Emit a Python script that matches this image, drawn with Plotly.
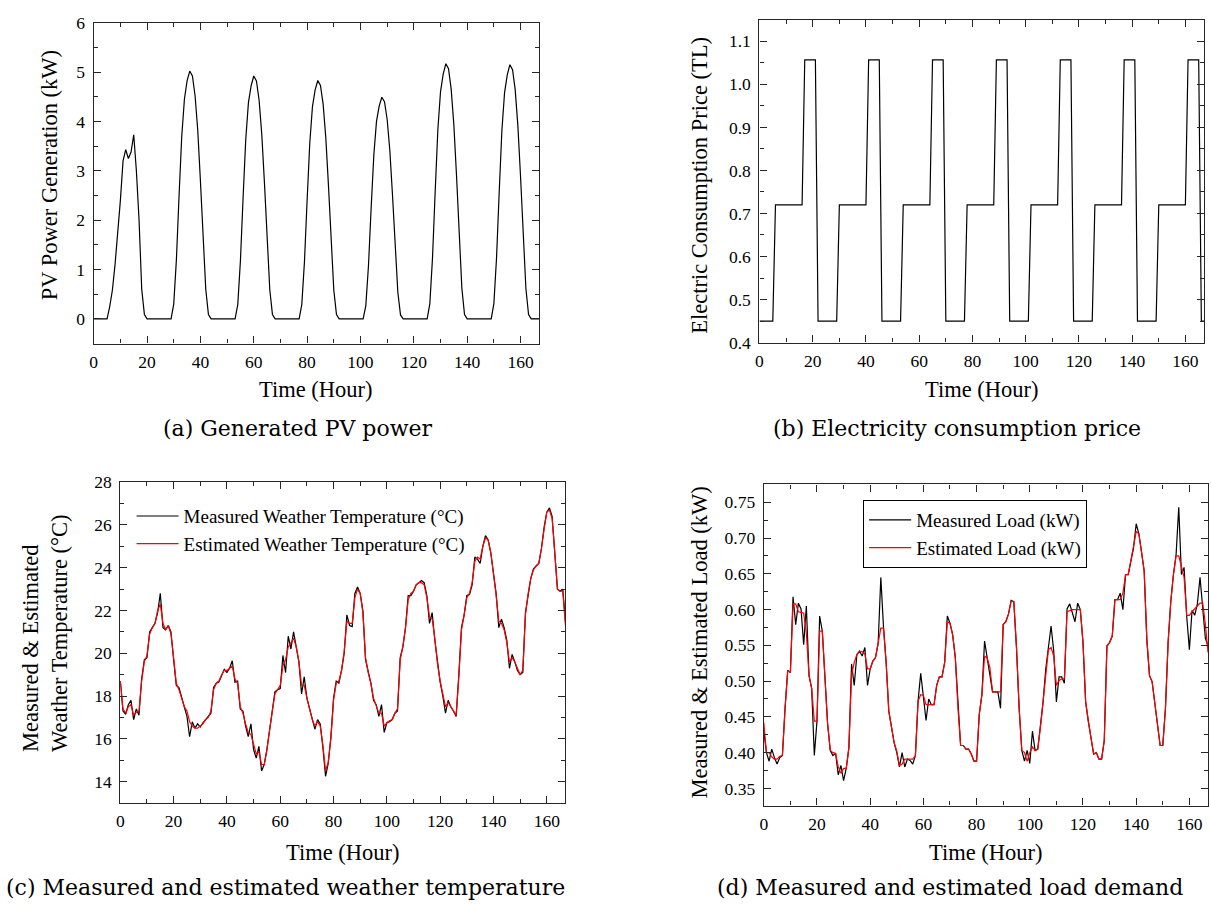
import plotly.graph_objects as go

W, H = 1211, 917

hours = list(range(168))

pv_power = [
    0, 0, 0, 0, 0, 0, 0.25, 0.58, 1.10, 1.70, 2.40, 3.20, 3.43, 3.25, 3.38, 3.73, 3.00, 2.00, 0.60, 0.09, 0, 0, 0, 0,
    0, 0, 0, 0, 0, 0, 0.30, 1.20, 2.50, 3.70, 4.45, 4.82, 5.02, 4.92, 4.52, 3.82, 2.80, 1.60, 0.60, 0.09, 0, 0, 0, 0,
    0, 0, 0, 0, 0, 0, 0.29, 1.18, 2.46, 3.64, 4.38, 4.72, 4.92, 4.82, 4.43, 3.74, 2.76, 1.57, 0.59, 0.09, 0, 0, 0, 0,
    0, 0, 0, 0, 0, 0, 0.29, 1.16, 2.41, 3.57, 4.30, 4.64, 4.83, 4.73, 4.35, 3.67, 2.70, 1.55, 0.58, 0.09, 0, 0, 0, 0,
    0, 0, 0, 0, 0, 0, 0.27, 1.08, 2.25, 3.32, 4.00, 4.31, 4.49, 4.40, 4.04, 3.41, 2.51, 1.44, 0.54, 0.08, 0, 0, 0, 0,
    0, 0, 0, 0, 0, 0, 0.31, 1.24, 2.58, 3.83, 4.60, 4.96, 5.17, 5.07, 4.65, 3.93, 2.90, 1.65, 0.62, 0.09, 0, 0, 0, 0,
    0, 0, 0, 0, 0, 0, 0.31, 1.24, 2.57, 3.81, 4.58, 4.94, 5.15, 5.05, 4.64, 3.91, 2.88, 1.65, 0.62, 0.09, 0, 0, 0, 0,
]

price = [
    0.45, 0.45, 0.45, 0.45, 0.45, 0.45, 0.72, 0.72, 0.72, 0.72, 0.72, 0.72, 0.72, 0.72, 0.72, 0.72, 0.72, 1.057, 1.057, 1.057, 1.057, 1.057, 0.45, 0.45,
    0.45, 0.45, 0.45, 0.45, 0.45, 0.45, 0.72, 0.72, 0.72, 0.72, 0.72, 0.72, 0.72, 0.72, 0.72, 0.72, 0.72, 1.057, 1.057, 1.057, 1.057, 1.057, 0.45, 0.45,
    0.45, 0.45, 0.45, 0.45, 0.45, 0.45, 0.72, 0.72, 0.72, 0.72, 0.72, 0.72, 0.72, 0.72, 0.72, 0.72, 0.72, 1.057, 1.057, 1.057, 1.057, 1.057, 0.45, 0.45,
    0.45, 0.45, 0.45, 0.45, 0.45, 0.45, 0.72, 0.72, 0.72, 0.72, 0.72, 0.72, 0.72, 0.72, 0.72, 0.72, 0.72, 1.057, 1.057, 1.057, 1.057, 1.057, 0.45, 0.45,
    0.45, 0.45, 0.45, 0.45, 0.45, 0.45, 0.72, 0.72, 0.72, 0.72, 0.72, 0.72, 0.72, 0.72, 0.72, 0.72, 0.72, 1.057, 1.057, 1.057, 1.057, 1.057, 0.45, 0.45,
    0.45, 0.45, 0.45, 0.45, 0.45, 0.45, 0.72, 0.72, 0.72, 0.72, 0.72, 0.72, 0.72, 0.72, 0.72, 0.72, 0.72, 1.057, 1.057, 1.057, 1.057, 1.057, 0.45, 0.45,
    0.45, 0.45, 0.45, 0.45, 0.45, 0.45, 0.72, 0.72, 0.72, 0.72, 0.72, 0.72, 0.72, 0.72, 0.72, 0.72, 0.72, 1.057, 1.057, 1.057, 1.057, 1.057, 0.45, 0.45,
]

temp_measured = [
    18.7, 17.3, 17.15, 17.6, 17.8, 16.9, 17.4, 17.1, 18.8, 19.7, 19.8, 21.0,
    21.2, 21.4, 21.9, 22.8, 21.2, 21.1, 21.3, 21.0, 19.7, 18.5, 18.4, 17.9,
    17.5, 17.05, 16.1, 16.8, 16.5, 16.7, 16.55, 16.75, 16.9, 17.1, 17.2, 18.4,
    18.6, 18.65, 19.0, 19.25, 19.1, 19.3, 19.65, 18.65, 18.7, 17.4, 17.3, 16.6,
    16.1, 16.7, 15.5, 15.1, 15.65, 14.5, 14.8, 15.5, 16.4, 17.3, 18.2, 18.3,
    18.35, 19.9, 19.1, 20.8, 20.2, 21.0, 20.3, 19.6, 18.1, 18.9, 17.9, 17.4,
    16.9, 16.45, 16.9, 16.7, 15.6, 14.25, 14.85, 16.1, 17.9, 18.7, 18.6, 19.2,
    20.0, 21.8, 21.3, 21.25, 22.8, 23.1, 22.8, 22.0, 19.7, 19.1, 18.6, 17.8,
    17.6, 17.05, 17.6, 16.3, 16.75, 16.8, 16.9, 17.2, 17.3, 19.8, 20.3, 21.2,
    22.7, 22.7, 22.9, 23.2, 23.3, 23.4, 23.3, 22.7, 21.4, 21.9, 20.6, 19.5,
    18.65, 18.0, 17.2, 17.8, 17.5, 17.3, 17.05, 19.0, 21.2, 21.8, 22.7, 22.75,
    23.2, 24.5, 24.4, 24.2, 25.0, 25.5, 25.3, 24.7, 23.8, 22.8, 21.2, 21.6,
    21.2, 20.6, 19.3, 19.95, 19.6, 19.2, 19.0, 19.1, 21.9, 22.8, 23.5, 23.95,
    24.1, 24.2, 24.9, 25.9, 26.6, 26.8, 26.4, 24.7, 23.0, 22.9, 23.0, 21.5,
]

temp_estimated = [
    18.7, 17.4, 17.2, 17.5, 17.6, 17.1, 17.25, 17.3, 18.7, 19.6, 19.9, 20.9,
    21.2, 21.4, 22.0, 22.3, 21.4, 21.1, 21.3, 20.9, 19.8, 18.6, 18.3, 17.9,
    17.5, 17.3, 16.8, 16.6, 16.5, 16.5, 16.6, 16.7, 16.9, 17.0, 17.3, 18.3,
    18.6, 18.7, 19.0, 19.2, 19.2, 19.3, 19.4, 18.8, 18.6, 17.5, 17.2, 16.7,
    16.3, 16.2, 15.7, 15.3, 15.4, 14.8, 14.8, 15.5, 16.4, 17.3, 18.1, 18.3,
    18.5, 19.4, 19.7, 20.3, 20.5, 20.7, 20.3, 19.6, 18.5, 18.5, 17.9, 17.4,
    16.9, 16.6, 16.8, 16.6, 15.7, 14.5, 14.9, 16.0, 17.8, 18.6, 18.7, 19.2,
    20.1, 21.5, 21.4, 21.4, 22.6, 23.0, 22.8, 21.9, 19.8, 19.1, 18.6, 17.9,
    17.5, 17.2, 17.2, 16.6, 16.75, 16.85, 16.9, 17.2, 17.4, 19.7, 20.3, 21.2,
    22.5, 22.8, 22.9, 23.2, 23.3, 23.3, 23.2, 22.6, 21.7, 21.6, 20.7, 19.5,
    18.7, 18.0, 17.5, 17.7, 17.5, 17.3, 17.1, 18.9, 21.1, 21.8, 22.6, 22.8,
    23.3, 24.3, 24.5, 24.4, 25.0, 25.4, 25.3, 24.7, 23.8, 22.7, 21.5, 21.4,
    21.1, 20.5, 19.6, 19.8, 19.6, 19.3, 19.0, 19.2, 21.8, 22.8, 23.5, 23.9,
    24.1, 24.2, 24.9, 25.8, 26.6, 26.7, 26.3, 24.7, 23.0, 22.9, 22.9, 21.3,
]

load_measured = [
    0.430, 0.400, 0.388, 0.405, 0.393, 0.384, 0.393, 0.396, 0.462, 0.515, 0.512, 0.618,
    0.579, 0.609, 0.601, 0.551, 0.605, 0.508, 0.490, 0.396, 0.444, 0.591, 0.570, 0.499,
    0.440, 0.403, 0.396, 0.399, 0.369, 0.382, 0.361, 0.378, 0.407, 0.524, 0.494, 0.537,
    0.542, 0.535, 0.547, 0.494, 0.517, 0.528, 0.533, 0.553, 0.645, 0.576, 0.526, 0.458,
    0.435, 0.414, 0.400, 0.380, 0.400, 0.380, 0.391, 0.389, 0.384, 0.396, 0.472, 0.511,
    0.478, 0.445, 0.475, 0.467, 0.467, 0.494, 0.506, 0.506, 0.526, 0.591, 0.581, 0.565,
    0.533, 0.462, 0.410, 0.410, 0.405, 0.405, 0.398, 0.388, 0.388, 0.453, 0.481, 0.556,
    0.531, 0.508, 0.485, 0.485, 0.485, 0.462, 0.579, 0.583, 0.594, 0.613, 0.611, 0.547,
    0.462, 0.403, 0.388, 0.403, 0.385, 0.430, 0.403, 0.405, 0.435, 0.471, 0.517, 0.544,
    0.577, 0.542, 0.471, 0.506, 0.506, 0.497, 0.601, 0.608, 0.597, 0.583, 0.609, 0.600,
    0.554, 0.471, 0.444, 0.419, 0.398, 0.400, 0.391, 0.391, 0.417, 0.549, 0.554, 0.563,
    0.614, 0.614, 0.623, 0.600, 0.649, 0.649, 0.668, 0.686, 0.720, 0.706, 0.681, 0.654,
    0.558, 0.508, 0.499, 0.467, 0.435, 0.410, 0.410, 0.462, 0.554, 0.611, 0.649, 0.677,
    0.743, 0.649, 0.659, 0.590, 0.544, 0.599, 0.592, 0.608, 0.645, 0.600, 0.560, 0.549,
]

load_estimated = [
    0.442, 0.400, 0.400, 0.394, 0.391, 0.391, 0.395, 0.396, 0.462, 0.515, 0.512, 0.608,
    0.608, 0.597, 0.596, 0.595, 0.567, 0.508, 0.490, 0.444, 0.444, 0.570, 0.570, 0.499,
    0.440, 0.403, 0.400, 0.399, 0.380, 0.371, 0.378, 0.378, 0.407, 0.508, 0.526, 0.537,
    0.542, 0.541, 0.538, 0.517, 0.517, 0.528, 0.533, 0.553, 0.574, 0.574, 0.526, 0.458,
    0.435, 0.414, 0.402, 0.382, 0.384, 0.391, 0.391, 0.391, 0.391, 0.396, 0.472, 0.481,
    0.480, 0.467, 0.467, 0.467, 0.467, 0.494, 0.506, 0.506, 0.526, 0.583, 0.581, 0.565,
    0.533, 0.462, 0.410, 0.410, 0.405, 0.405, 0.398, 0.388, 0.388, 0.453, 0.481, 0.535,
    0.532, 0.519, 0.485, 0.485, 0.485, 0.485, 0.579, 0.583, 0.594, 0.612, 0.611, 0.547,
    0.462, 0.403, 0.400, 0.388, 0.400, 0.408, 0.403, 0.405, 0.435, 0.471, 0.517, 0.544,
    0.547, 0.535, 0.494, 0.501, 0.503, 0.503, 0.597, 0.599, 0.600, 0.600, 0.600, 0.600,
    0.554, 0.471, 0.444, 0.419, 0.398, 0.400, 0.391, 0.391, 0.417, 0.549, 0.554, 0.563,
    0.614, 0.614, 0.614, 0.623, 0.649, 0.649, 0.668, 0.686, 0.709, 0.706, 0.681, 0.654,
    0.558, 0.508, 0.499, 0.467, 0.435, 0.410, 0.410, 0.462, 0.554, 0.611, 0.649, 0.675,
    0.675, 0.659, 0.645, 0.592, 0.592, 0.597, 0.601, 0.606, 0.609, 0.609, 0.580, 0.540,
]

SERIF = "Liberation Serif"
CAPFONT = "DejaVu Serif"
FRAME = "#262626"


def px_x(p):
    return p / W


def px_y(p):
    return 1 - p / H


fig = go.Figure()

line_k = dict(color="black", width=1.2)
line_r = dict(color="#ff0000", width=1.2)

fig.add_trace(go.Scatter(x=hours, y=pv_power, mode="lines", line=line_k,
                         xaxis="x", yaxis="y", showlegend=False))
fig.add_trace(go.Scatter(x=hours, y=price, mode="lines", line=line_k,
                         xaxis="x2", yaxis="y2", showlegend=False))
fig.add_trace(go.Scatter(x=hours, y=temp_measured, mode="lines", line=line_k,
                         xaxis="x3", yaxis="y3", name="Measured Weather Temperature (°C)",
                         legend="legend"))
fig.add_trace(go.Scatter(x=hours, y=temp_estimated, mode="lines", line=line_r,
                         xaxis="x3", yaxis="y3", name="Estimated Weather Temperature (°C)",
                         legend="legend"))
fig.add_trace(go.Scatter(x=hours, y=load_measured, mode="lines", line=line_k,
                         xaxis="x4", yaxis="y4", name="Measured Load (kW)",
                         legend="legend2"))
fig.add_trace(go.Scatter(x=hours, y=load_estimated, mode="lines", line=line_r,
                         xaxis="x4", yaxis="y4", name="Estimated Load (kW)",
                         legend="legend2"))

common = dict(
    showline=True, linecolor=FRAME, linewidth=1.3, mirror="allticks",
    ticks="inside", ticklen=7, tickwidth=1.2, tickcolor=FRAME,
    showgrid=False, zeroline=False,
    tickfont=dict(family=SERIF, size=17.5, color="black"),
    minor=dict(ticks="inside", ticklen=4, tickwidth=1.1, tickcolor=FRAME, showgrid=False),
)


def xax(dom, anchor):
    d = dict(common)
    d.update(domain=dom, anchor=anchor, range=[0, 167], tick0=0, dtick=20,
             minor=dict(common["minor"], dtick=10), ticklabelstandoff=2)
    return d


def yax(dom, anchor, rng, tick0, dtick, mdtick, fmt=None):
    d = dict(common)
    d.update(domain=dom, anchor=anchor, range=rng, tick0=tick0, dtick=dtick,
             minor=dict(common["minor"], dtick=mdtick, tick0=tick0), ticklabelstandoff=4)
    if fmt:
        d["tickformat"] = fmt
    return d


dom_a = ([px_x(90), px_x(537)], [px_y(341), px_y(13)])
dom_b = ([px_x(758), px_x(1204)], [px_y(340), px_y(10)])
dom_c = ([px_x(116.7), px_x(563.3)], [px_y(810.7), px_y(482.7)])
dom_d = ([px_x(762.3), px_x(1208)], [px_y(813.3), px_y(485)])

fig.update_layout(
    width=W, height=H,
    margin=dict(l=0, r=0, t=0, b=0),
    paper_bgcolor="white", plot_bgcolor="white",
    font=dict(family=SERIF, size=17, color="black"),
    xaxis=xax(dom_a[0], "y"),
    yaxis=yax(dom_a[1], "x", [-0.5, 6], 0, 1, 0.5),
    xaxis2=xax(dom_b[0], "y2"),
    yaxis2=yax(dom_b[1], "x2", [0.4, 1.15], 0.4, 0.1, 0.05, ".1f"),
    xaxis3=xax(dom_c[0], "y3"),
    yaxis3=yax(dom_c[1], "x3", [13, 28], 14, 2, 1),
    xaxis4=xax(dom_d[0], "y4"),
    yaxis4=yax(dom_d[1], "x4", [0.326, 0.775], 0.35, 0.05, 0.025, ".2f"),
    legend=dict(x=px_x(128), y=px_y(498), xanchor="left", yanchor="top",
                bgcolor="rgba(0,0,0,0)", borderwidth=0,
                font=dict(family=SERIF, size=19, color="black"),
                itemwidth=42, tracegroupgap=0),
    legend2=dict(x=px_x(862), y=px_y(501), xanchor="left", yanchor="top",
                 bgcolor="white", bordercolor="black", borderwidth=1,
                 font=dict(family=SERIF, size=19, color="black"),
                 itemwidth=42, tracegroupgap=0),
)

annotations = []


def text(x, y, s, size, family=SERIF, angle=0, align="center"):
    annotations.append(dict(x=px_x(x), y=px_y(y), xref="paper", yref="paper",
                            text=s, showarrow=False, textangle=angle, align=align,
                            xanchor="center", yanchor="middle",
                            font=dict(family=family, size=size, color="black")))


# axis titles
text(313, 388, "Time (Hour)", 22.5)
text(981, 388, "Time (Hour)", 22.5)
text(340, 861, "Time (Hour)", 22.5)
text(985, 861, "Time (Hour)", 22.5)
text(45, 169, "PV Power Generation (kW)", 22.5, angle=-90)
text(697, 179, "Electric Consumption Price (TL)", 22.5, angle=-90)
text(41, 637, "Measured & Estimated<br>Weather Temperature (°C)", 22.5, angle=-90, align="left")
text(698, 647, "Measured & Estimated Load (kW)", 22.5, angle=-90)

# captions
text(294, 428, "(a) Generated PV power", 22, CAPFONT)
text(956, 428, "(b) Electricity consumption price", 22, CAPFONT)
text(282, 897, "(c) Measured and estimated weather temperature", 22, CAPFONT)
text(949, 897, "(d) Measured and estimated load demand", 22, CAPFONT)

fig.update_layout(annotations=annotations)

fig.write_html("out.html")
